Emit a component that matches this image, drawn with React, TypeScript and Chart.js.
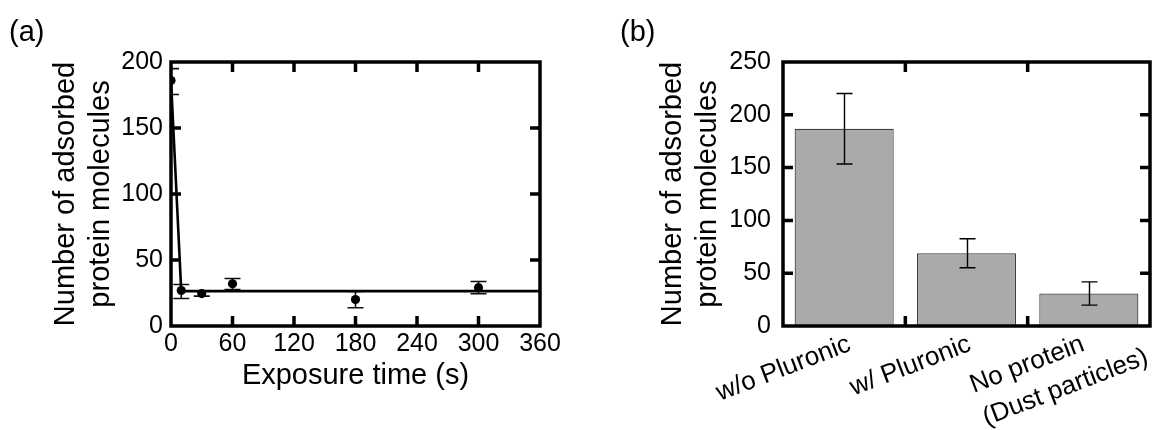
import React, { useEffect, useRef } from 'react';
import { Chart, registerables } from 'chart.js';

Chart.register(...registerables);

const FONT = '"Liberation Sans", Arial, sans-serif';

// Panel (a): adsorbed protein vs exposure time
const exposureTimes = [0, 10, 30, 60, 180, 300];
const adsorbedCounts = [186, 26.9, 24.6, 32, 20, 29];
const adsorbedErrPlus = [9, 4.5, 2, 4, 6.2, 4.7];
const adsorbedErrMinus = [10.6, 6.1, 2, 4.4, 6.2, 4.6];
const fitTimes = [0, 10, 360];
const fitCounts = [186, 26.4, 26.4];

// Panel (b): bar chart
const conditions = [['w/o Pluronic'], ['w/ Pluronic'], ['No protein', '(Dust particles)']];
const conditionCounts = [186.8, 68.9, 30.8];
const conditionErrors = [33.4, 13.7, 11];

const yTitleLines = ['Number of adsorbed', 'protein molecules'];
const xTitleA = 'Exposure time (s)';

// style: horizontal nudge of each rotated category label (px)
const labelNudge = [8, 6, -3];

function framePlugin(kind: 'a' | 'b') {
  return {
    id: 'frame' + kind,
    afterDatasetsDraw(chart: any) {
      const { ctx, chartArea } = chart;
      const { left, right, top, bottom } = chartArea;
      const xs = chart.scales.x;
      const ys = chart.scales.y;
      const tl = 10;
      ctx.save();
      ctx.strokeStyle = '#000';
      ctx.lineWidth = 3.5;
      ctx.lineCap = 'butt';
      ctx.beginPath();
      ctx.rect(left, top, right - left, bottom - top);
      ctx.stroke();
      let xVals: number[] = [];
      if (kind === 'a') {
        xVals = xs.ticks.map((t: any) => t.value).filter((v: number) => v > xs.min && v < xs.max);
      } else {
        const n = chart.data.labels.length;
        for (let i = 0; i < n - 1; i++) xVals.push(i + 0.5);
      }
      const yVals = ys.ticks.map((t: any) => t.value).filter((v: number) => v > ys.min && v < ys.max);
      ctx.beginPath();
      for (const v of xVals) {
        const px = xs.getPixelForValue(v);
        ctx.moveTo(px, bottom);
        ctx.lineTo(px, bottom - tl);
        ctx.moveTo(px, top);
        ctx.lineTo(px, top + tl);
      }
      for (const v of yVals) {
        const py = ys.getPixelForValue(v);
        ctx.moveTo(left, py);
        ctx.lineTo(left + tl, py);
        ctx.moveTo(right, py);
        ctx.lineTo(right - tl, py);
      }
      ctx.stroke();
      ctx.restore();
    },
  };
}

const errorBarsA = {
  id: 'errA',
  beforeDatasetsDraw(chart: any) {
    const { ctx, chartArea } = chart;
    const xs = chart.scales.x;
    const ys = chart.scales.y;
    ctx.save();
    ctx.beginPath();
    ctx.rect(chartArea.left, chartArea.top, chartArea.right - chartArea.left, chartArea.bottom - chartArea.top);
    ctx.clip();
    ctx.strokeStyle = '#111';
    ctx.lineWidth = 1.6;
    const cap = 8;
    exposureTimes.forEach((t, i) => {
      const px = xs.getPixelForValue(t);
      const yTop = ys.getPixelForValue(adsorbedCounts[i] + adsorbedErrPlus[i]);
      const yBot = ys.getPixelForValue(adsorbedCounts[i] - adsorbedErrMinus[i]);
      ctx.beginPath();
      ctx.moveTo(px, yTop);
      ctx.lineTo(px, yBot);
      ctx.moveTo(px - cap, yTop);
      ctx.lineTo(px + cap, yTop);
      ctx.moveTo(px - cap, yBot);
      ctx.lineTo(px + cap, yBot);
      ctx.stroke();
    });
    ctx.restore();
  },
};

const errorBarsB = {
  id: 'errB',
  afterDatasetsDraw(chart: any) {
    const { ctx } = chart;
    const xs = chart.scales.x;
    const ys = chart.scales.y;
    ctx.save();
    ctx.strokeStyle = '#000';
    ctx.lineWidth = 1.4;
    const cap = 8;
    conditionCounts.forEach((v, i) => {
      const px = Math.round(xs.getPixelForValue(i)) + 0.5;
      const yTop = ys.getPixelForValue(v + conditionErrors[i]);
      const yBot = ys.getPixelForValue(v - conditionErrors[i]);
      ctx.beginPath();
      ctx.moveTo(px, yTop);
      ctx.lineTo(px, yBot);
      ctx.moveTo(px - cap, yTop);
      ctx.lineTo(px + cap, yTop);
      ctx.moveTo(px - cap, yBot);
      ctx.lineTo(px + cap, yBot);
      ctx.stroke();
    });
    ctx.restore();
  },
};

const xLabelsB = {
  id: 'xLabelsB',
  afterDraw(chart: any) {
    const { ctx, chartArea } = chart;
    const xs = chart.scales.x;
    const lineH = 35;
    ctx.save();
    ctx.font = `26px ${FONT}`;
    ctx.fillStyle = '#000';
    ctx.textBaseline = 'alphabetic';
    ctx.textAlign = 'left';
    chart.data.labels.forEach((lab: any, i: number) => {
      const lines: string[] = Array.isArray(lab) ? lab : [lab];
      const cx = xs.getPixelForValue(i);
      const w0 = ctx.measureText(lines[0]).width;
      ctx.save();
      ctx.translate(cx + (labelNudge[i] ?? 6), chartArea.bottom + 24);
      ctx.rotate((-21 * Math.PI) / 180);
      lines.forEach((ln, j) => ctx.fillText(ln, -w0, j * lineH));
      ctx.restore();
    });
    ctx.restore();
  },
};

function panelLabel(text: string, x: number, y: number) {
  return {
    id: 'panel' + text,
    afterDraw(chart: any) {
      const { ctx } = chart;
      ctx.save();
      ctx.font = `29px ${FONT}`;
      ctx.fillStyle = '#000';
      ctx.textBaseline = 'alphabetic';
      ctx.textAlign = 'left';
      ctx.fillText(text, x, y);
      ctx.restore();
    },
  };
}

const tickFont = { family: FONT, size: 25 };
const titleFont = { family: FONT, size: 29, lineHeight: 1.2 };

export default function App() {
  const refA = useRef<HTMLCanvasElement>(null);
  const refB = useRef<HTMLCanvasElement>(null);

  useEffect(() => {
    const chartA = new Chart(refA.current as HTMLCanvasElement, {
      type: 'scatter',
      data: {
        datasets: [
          {
            type: 'line',
            data: fitTimes.map((t, i) => ({ x: t, y: fitCounts[i] })),
            borderColor: '#000',
            borderWidth: 2.6,
            pointRadius: 0,
            fill: false,
            tension: 0,
            order: 2,
          } as any,
          {
            data: exposureTimes.map((t, i) => ({ x: t, y: adsorbedCounts[i] })),
            pointRadius: 4.6,
            pointBackgroundColor: '#000',
            pointBorderWidth: 0,
            order: 1,
          },
        ],
      },
      options: {
        animation: false,
        responsive: false,
        events: [],
        layout: { padding: { top: 62, right: 40, left: 0, bottom: 0 } },
        plugins: { legend: { display: false }, tooltip: { enabled: false } },
        scales: {
          x: {
            type: 'linear',
            min: 0,
            max: 360,
            ticks: { stepSize: 60, font: tickFont, color: '#000', padding: 3, maxRotation: 0 },
            grid: { display: false, drawTicks: false },
            border: { display: false },
            title: { display: true, text: xTitleA, font: titleFont, color: '#000', padding: { top: 0, bottom: 37 } },
            afterFit: (s: any) => { s.height = 104; },
          },
          y: {
            min: 0,
            max: 200,
            ticks: { stepSize: 50, font: tickFont, color: '#000', padding: 8 },
            grid: { display: false, drawTicks: false },
            border: { display: false },
            title: { display: true, text: yTitleLines, font: titleFont, color: '#000', padding: { top: 49, bottom: 0 } },
            afterFit: (s: any) => { s.width = 171; },
          },
        },
      },
      plugins: [errorBarsA, framePlugin('a'), panelLabel('(a)', 9, 41)],
    });

    const chartB = new Chart(refB.current as HTMLCanvasElement, {
      type: 'bar',
      data: {
        labels: conditions,
        datasets: [
          {
            data: conditionCounts,
            backgroundColor: '#aaaaaa',
            borderColor: '#3c3c3c',
            borderWidth: 1.2,
            barPercentage: 0.81,
            categoryPercentage: 1,
          },
        ],
      },
      options: {
        animation: false,
        responsive: false,
        events: [],
        layout: { padding: { top: 62, right: 8, left: 0, bottom: 0 } },
        plugins: { legend: { display: false }, tooltip: { enabled: false } },
        scales: {
          x: {
            type: 'category',
            offset: true,
            ticks: { display: false },
            grid: { display: false, drawTicks: false },
            border: { display: false },
            afterFit: (s: any) => { s.height = 104; },
          },
          y: {
            min: 0,
            max: 250,
            ticks: { stepSize: 50, font: tickFont, color: '#000', padding: 12 },
            grid: { display: false, drawTicks: false },
            border: { display: false },
            title: { display: true, text: yTitleLines, font: titleFont, color: '#000', padding: { top: 76, bottom: 0 } },
            afterFit: (s: any) => { s.width = 203; },
          },
        },
      },
      plugins: [errorBarsB, framePlugin('b'), xLabelsB, panelLabel('(b)', 40, 41)],
    });

    return () => {
      chartA.destroy();
      chartB.destroy();
    };
  }, []);

  return (
    <div style={{ position: 'absolute', left: 0, top: 0, width: 1158, height: 430, background: '#fff' }}>
      <canvas ref={refA} width={580} height={430} style={{ position: 'absolute', left: 0, top: 0, width: 580, height: 430 }} />
      <canvas ref={refB} width={578} height={430} style={{ position: 'absolute', left: 580, top: 0, width: 578, height: 430 }} />
    </div>
  );
}
